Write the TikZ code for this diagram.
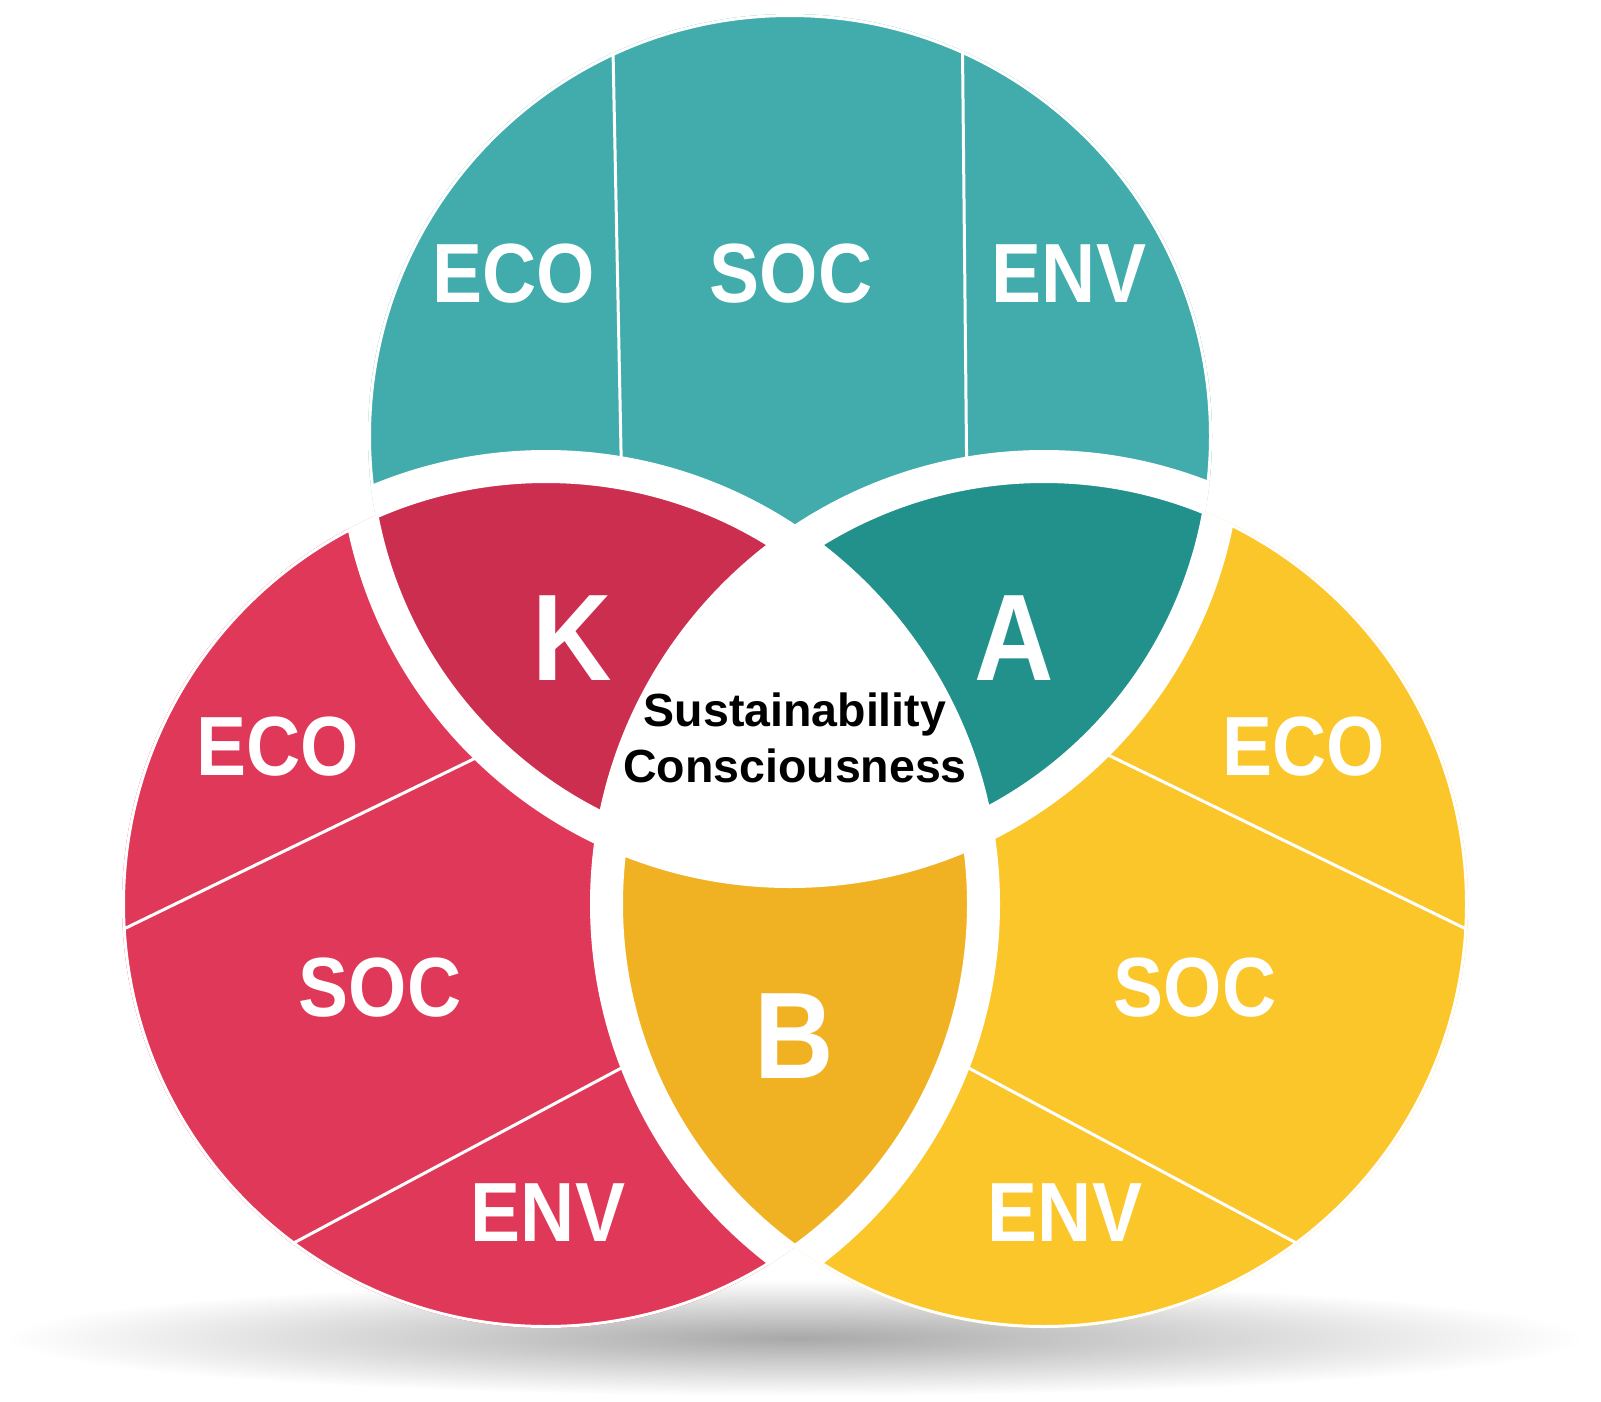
\documentclass[tikz,border=0pt]{standalone}
\usepackage{fontspec}
\setmainfont{Liberation Sans}
\usepackage{graphicx}

\definecolor{tealbase}{HTML}{42ACAC}
\definecolor{tealdark}{HTML}{22918B}
\definecolor{redbase}{HTML}{E03858}
\definecolor{reddark}{HTML}{CC2E50}
\definecolor{yellowbase}{HTML}{FBC62A}
\definecolor{yellowdark}{HTML}{F0B222}

\newcommand{\tallword}[1]{\scalebox{1}[1.12]{#1}}

\begin{document}
\begin{tikzpicture}[%
    x=1pt,
    y=-1pt,
    segment/.style={text=white, inner sep=0pt, font=\bfseries\fontsize{75}{80}\selectfont},
    letter/.style={text=white, inner sep=0pt, font=\bfseries\fontsize{110}{120}\selectfont},
    core/.style={text=black, align=center, inner sep=0pt, font=\bfseries\fontsize{46.5}{56}\selectfont},
    divider/.style={white, line width=3},
    ring/.style={white, line width=33}
  ]
    \useasboundingbox (0,0) rectangle (1601,1401);

    \coordinate (top)   at (790,436);
    \coordinate (left)  at (546,904);
    \coordinate (right) at (1044,904);

    \shade[inner color=black!34, outer color=white] (795,1338) ellipse [x radius=790, y radius=58];

    \fill[tealbase]   (top)   circle [radius=422];
    \fill[redbase]    (left)  circle [radius=424];
    \fill[yellowbase] (right) circle [radius=424];

    \begin{scope}
      \clip (top) circle [radius=422];
      \draw[divider] (612,0) -- (630,900);
      \draw[divider] (962,0) -- (971,900);
    \end{scope}
    \begin{scope}
      \clip (left) circle [radius=424];
      \draw[divider] (60,960) -- (560,717);
      \draw[divider] (200,1293) -- (700,1026);
    \end{scope}
    \begin{scope}
      \clip (right) circle [radius=424];
      \draw[divider] (1530,960) -- (1030,717);
      \draw[divider] (1390,1293) -- (890,1026);
    \end{scope}

    \begin{scope}
      \clip (top) circle [radius=422];
      \fill[reddark]  (left)  circle [radius=424];
      \fill[tealdark] (right) circle [radius=424];
    \end{scope}
    \begin{scope}
      \clip (left) circle [radius=424];
      \fill[yellowdark] (right) circle [radius=424];
      \clip (right) circle [radius=424];
      \fill[white] (top) circle [radius=422];
    \end{scope}

    \begin{scope}
      \clip (top) circle [radius=422] (left) circle [radius=424] (right) circle [radius=424];
      \draw[ring] (top)   circle [radius=435.5];
      \draw[ring] (left)  circle [radius=437.5];
      \draw[ring] (right) circle [radius=437.5];
    \end{scope}

    \node[segment] (topeco) at (514,274)  {\tallword{ECO}};
    \node[segment] (topsoc) at (791,274)  {\tallword{SOC}};
    \node[segment] (topenv) at (1069,274) {\tallword{ENV}};

    \node[segment] (lefteco) at (278,747)  {\tallword{ECO}};
    \node[segment] (leftsoc) at (380,988)  {\tallword{SOC}};
    \node[segment] (leftenv) at (548,1213) {\tallword{ENV}};

    \node[segment] (righteco) at (1304,747)  {\tallword{ECO}};
    \node[segment] (rightsoc) at (1195,988)  {\tallword{SOC}};
    \node[segment] (rightenv) at (1065,1213) {\tallword{ENV}};

    \node[letter] (know)  at (572,638)  {\tallword{K}};
    \node[letter] (att)   at (1014,638) {\tallword{A}};
    \node[letter] (behav) at (794,1036) {\tallword{B}};

    \node[core] (consc) at (795,738) {Sustainability\\Consciousness};
\end{tikzpicture}
\end{document}
